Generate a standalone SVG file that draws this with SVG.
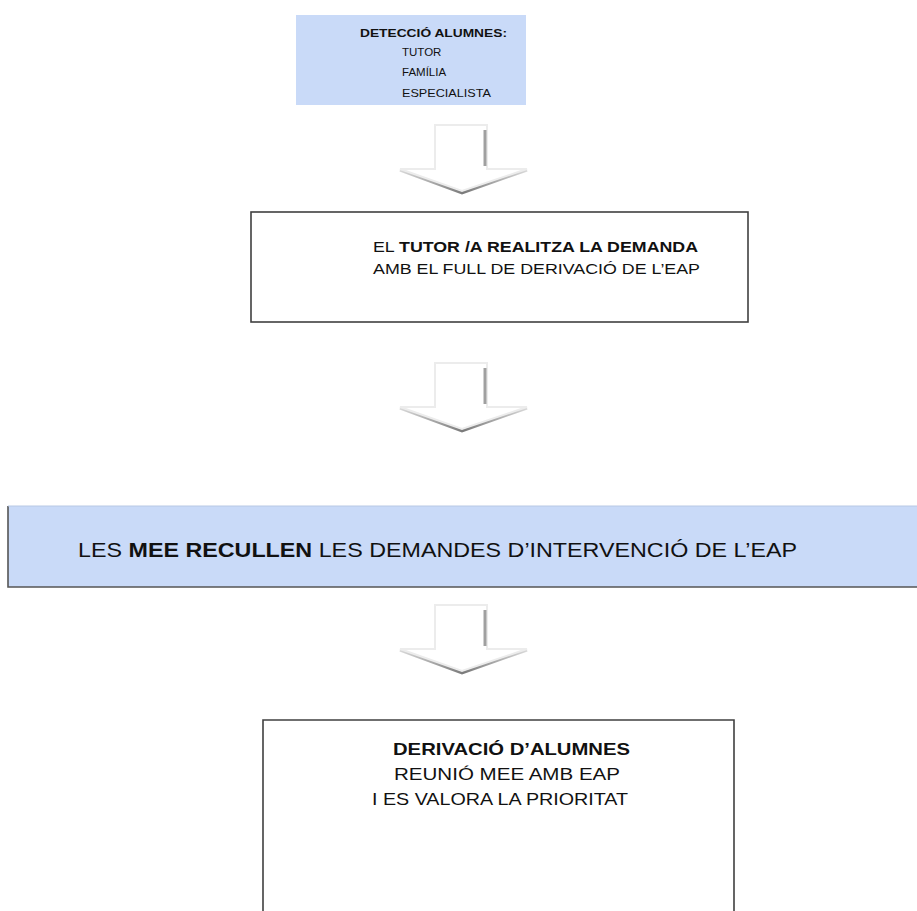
<svg xmlns="http://www.w3.org/2000/svg" xmlns:xlink="http://www.w3.org/1999/xlink" width="917" height="911" viewBox="0 0 917 911">
<style>
  text { font-family: "Liberation Sans", Arial, sans-serif; fill: #111; }
  .b { font-weight: bold; }
  .blue { fill: #c9daf8; }
  .frame { fill: #ffffff; stroke: #404040; stroke-width: 1.6; }
</style>
<defs>
  <linearGradient id="shade" x1="0" y1="0" x2="1" y2="0">
    <stop offset="0" stop-color="#d8d8d8"/>
    <stop offset="0.5" stop-color="#7a7a7a"/>
    <stop offset="1" stop-color="#d8d8d8"/>
  </linearGradient>
  <g id="blockArrow">
    <path d="M-35,45 L27,68 L92,45" fill="none" stroke="url(#shade)" stroke-width="3"/>
    <polygon points="0,0 52,0 52,44 92,44 27,66 -35,44 0,44" fill="#ffffff" stroke="#ececec" stroke-width="2"/>
    <line x1="50" y1="5" x2="50" y2="41" stroke="#a0a0a0" stroke-width="3"/>
  </g>
</defs>
<rect width="917" height="911" fill="#ffffff"/>

<g id="connectors">
  <use xlink:href="#blockArrow" transform="translate(435,125)"/>
  <use xlink:href="#blockArrow" transform="translate(435,363)"/>
  <use xlink:href="#blockArrow" transform="translate(435,605)"/>
</g>

<g id="node-deteccio">
  <rect x="296" y="15" width="230" height="90" class="blue"/>
  <text x="360" y="37" font-size="11.5" class="b" textLength="147" lengthAdjust="spacingAndGlyphs">DETECCIÓ ALUMNES:</text>
  <text x="402" y="56" font-size="11.5">TUTOR</text>
  <text x="402" y="76" font-size="11.5">FAMÍLIA</text>
  <text x="402" y="97" font-size="11.5" textLength="89" lengthAdjust="spacingAndGlyphs">ESPECIALISTA</text>
</g>

<g id="node-tutor">
  <rect x="251" y="212" width="497" height="110" class="frame"/>
  <text x="373" y="252" font-size="14.5" textLength="325" lengthAdjust="spacingAndGlyphs">EL <tspan class="b">TUTOR /A REALITZA LA DEMANDA</tspan></text>
  <text x="373" y="274" font-size="14.5" textLength="327" lengthAdjust="spacingAndGlyphs">AMB EL FULL DE  DERIVACIÓ DE L’EAP</text>
</g>

<g id="node-mee">
  <rect x="8" y="506" width="925" height="81" class="blue"/>
  <path d="M8,506 L8,587 L930,587" fill="none" stroke="#555555" stroke-width="1.6"/>
  <line x1="8" y1="506" x2="930" y2="506" stroke="#b8c8e4" stroke-width="1"/>
  <text x="78" y="557" font-size="21" textLength="719" lengthAdjust="spacingAndGlyphs">LES <tspan class="b">MEE RECULLEN</tspan> LES DEMANDES D’INTERVENCIÓ DE L’EAP</text>
</g>

<g id="node-derivacio">
  <path d="M263,911 L263,720 L734,720 L734,911" class="frame"/>
  <text x="393" y="755" font-size="16.5" class="b" textLength="237" lengthAdjust="spacingAndGlyphs">DERIVACIÓ D’ALUMNES</text>
  <text x="394" y="780" font-size="16.5" textLength="226" lengthAdjust="spacingAndGlyphs">REUNIÓ MEE AMB EAP</text>
  <text x="372" y="805" font-size="16.5" textLength="256" lengthAdjust="spacingAndGlyphs">I ES VALORA LA PRIORITAT</text>
</g>
</svg>
